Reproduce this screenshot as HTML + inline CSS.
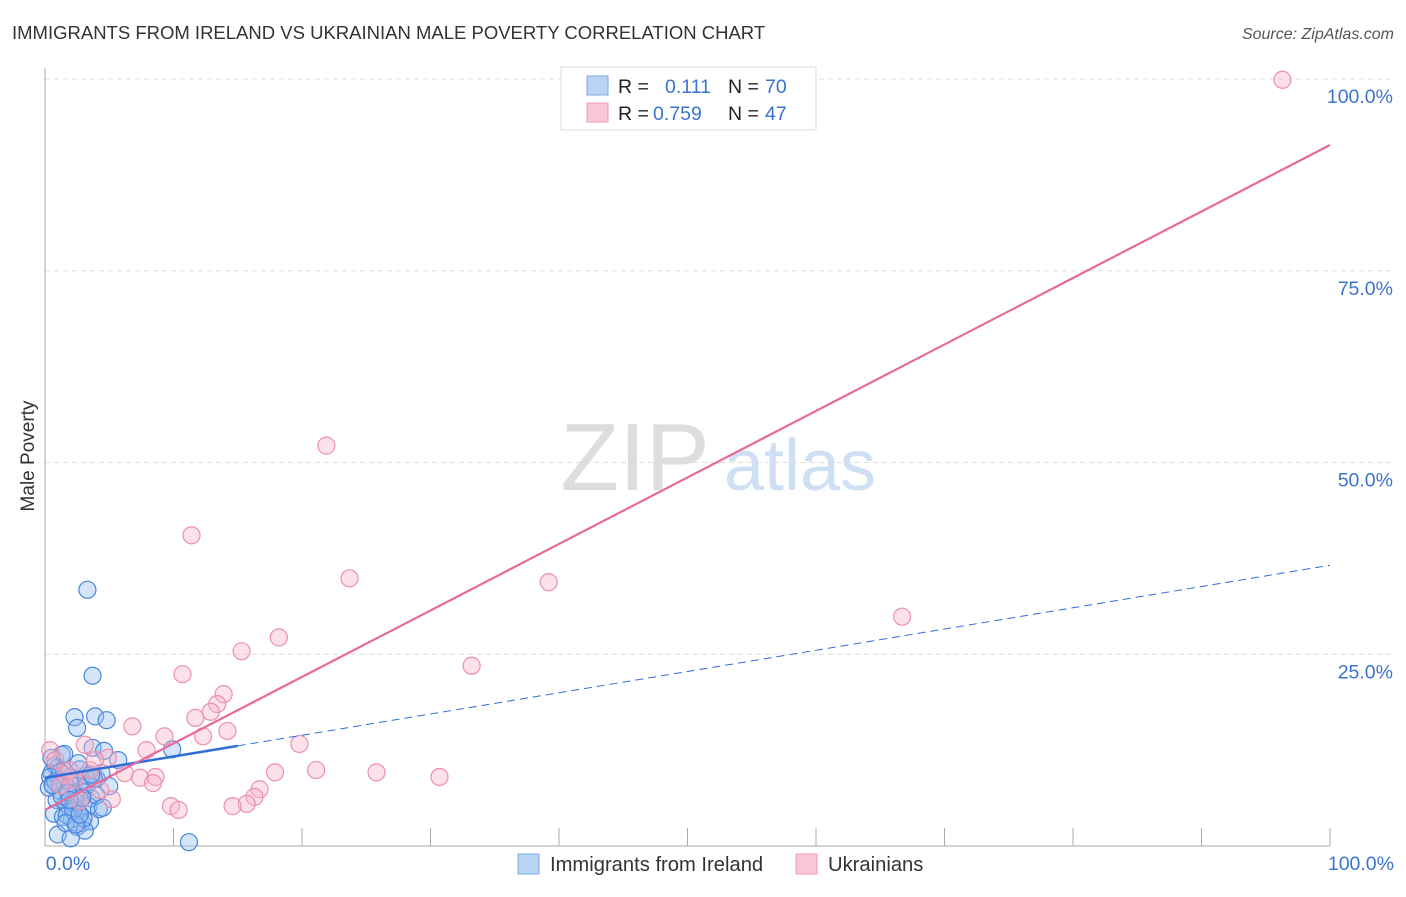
<!DOCTYPE html>
<html><head><meta charset="utf-8"><style>
body{margin:0;background:#fff;font-family:"Liberation Sans",sans-serif;}
svg text{font-family:"Liberation Sans",sans-serif;}
</style></head><body>
<svg width="1406" height="892" xmlns="http://www.w3.org/2000/svg">
<text x="12" y="39" font-size="18.5" fill="#333">IMMIGRANTS FROM IRELAND VS UKRAINIAN MALE POVERTY CORRELATION CHART</text>
<text x="1394" y="39" font-size="16" fill="#555" font-style="italic" text-anchor="end">Source: ZipAtlas.com</text>
<text x="34" y="456" font-size="19" fill="#333" transform="rotate(-90 34 456)" text-anchor="middle">Male Poverty</text>
<g>
<text x="635" y="490" font-size="96" fill="#ddd" font-family="Liberation Serif" text-anchor="middle">ZIP</text>
<text x="800" y="490" font-size="72" fill="#cfe0f5" text-anchor="middle">atlas</text>
</g>
<g id="grid"></g><g id="axes"></g><g id="pts"></g><g id="lines"></g>
<g>
<rect x="561" y="67" width="255" height="63" fill="#fff" stroke="#ddd"/>
<rect x="587" y="76" width="21" height="19" fill="#b9d3f5" stroke="#7aa8e6"/>
<rect x="587" y="103" width="21" height="19" fill="#f9c6d5" stroke="#ee9ab5"/>
<text x="618" y="93" font-size="19.5" fill="#222">R = </text><text x="665" y="93" font-size="19.5" fill="#3b74d0">0.111</text>
<text x="728" y="93" font-size="19.5" fill="#222">N = </text><text x="765" y="93" font-size="19.5" fill="#3b74d0">70</text>
<text x="618" y="120" font-size="19.5" fill="#222">R = </text><text x="653" y="120" font-size="19.5" fill="#3b74d0">0.759</text>
<text x="728" y="120" font-size="19.5" fill="#222">N = </text><text x="765" y="120" font-size="19.5" fill="#3b74d0">47</text>
</g>
<g>
<rect x="518" y="854" width="21" height="20" fill="#b9d3f5" stroke="#7aa8e6"/>
<text x="550" y="871" font-size="20.2" fill="#333">Immigrants from Ireland</text>
<rect x="796" y="854" width="21" height="20" fill="#f9c6d5" stroke="#ee9ab5"/>
<text x="828" y="871" font-size="20.2" fill="#333">Ukrainians</text>
</g>
</svg>
<script>
const yTicks=[25,50,75,100];
const yTickLabels=["25.0%","50.0%","75.0%","100.0%"];
const xTickLabels=["0.0%","100.0%"];
const irelandX=[3.3,3.7,2.3,3.9,4.8,2.5,3.7,4.6,9.9,1.3,5.7,0.8,11.2,0.5,1.0,1.5,2.0,2.8,3.2,4.0,4.4,5.0,0.6,1.2,1.8,2.4,3.0,3.6,0.9,1.6,2.2,2.6,3.4,4.2,0.7,1.4,2.1,2.9,3.5,0.4,1.1,1.9,2.7,0.3,1.3,2.3,1.7,2.5,3.1,1.0,2.0,3.0,4.0,0.5,1.5,2.6,1.8,3.3,2.2,1.2,0.8,2.9,3.8,4.5,1.6,2.4,0.6,1.9,3.6,2.7];
const irelandY=[33.4,22.2,16.8,16.9,16.4,15.4,12.8,12.4,12.6,11.9,11.2,10.5,0.5,9.5,10.2,9.8,9.0,8.5,9.2,8.8,9.5,7.8,8.0,7.2,7.5,6.8,7.0,6.2,6.0,5.5,5.0,4.5,5.2,4.8,4.2,3.8,3.5,3.0,3.2,9.0,8.6,8.2,10.0,7.6,6.5,5.8,4.0,2.5,2.0,1.5,1.0,3.6,6.6,11.5,12.0,10.8,7.0,8.0,4.6,9.6,8.4,6.3,8.8,5.0,3.0,2.8,7.9,6.0,9.3,4.1];
const ukrX=[96.3,21.9,11.4,23.7,39.2,66.7,18.2,15.3,33.2,10.7,13.9,13.4,12.9,11.7,6.8,14.2,12.3,9.3,19.8,7.9,4.9,21.1,17.9,25.8,30.7,6.2,8.6,7.4,8.4,16.7,16.3,5.2,15.7,14.6,9.8,10.4,0.4,0.8,1.6,2.3,3.5,4.3,1.2,2.7,3.9,3.1,1.9];
const ukrY=[99.9,52.2,40.5,34.9,34.4,29.9,27.2,25.4,23.5,22.4,19.8,18.5,17.5,16.7,15.6,15.0,14.3,14.3,13.3,12.5,11.5,9.9,9.6,9.6,9.0,9.5,9.0,8.9,8.2,7.4,6.4,6.1,5.5,5.2,5.2,4.7,12.5,11.2,9.3,8.6,9.9,7.3,7.9,5.9,11.2,13.2,9.9];
const irelandTrend=[8.9,36.6];
const ukrTrend=[4.7,91.4];
const sx=v=>45+v*12.85, sy=v=>846-v*7.67;
const NS="http://www.w3.org/2000/svg";
function mk(t,a,p){const e=document.createElementNS(NS,t);for(const k in a)e.setAttribute(k,a[k]);p.appendChild(e);return e;}
const grid=document.getElementById('grid'),axes=document.getElementById('axes'),pts=document.getElementById('pts'),lines=document.getElementById('lines');
yTicks.forEach((v,i)=>{
 const l=mk('line',{x1:45,x2:1394,y1:sy(v),y2:sy(v),stroke:'#ddd','stroke-dasharray':'5,4'},grid);
 
 
 const t=mk('text',{x:1393,y:sy(v)+24,'font-size':19.5,fill:'#3b74d0','text-anchor':'end'},grid);
 t.textContent=yTickLabels[i];
 
 
});
const ya=mk('line',{x1:45,x2:45,y1:68,y2:846,stroke:'#aaa'},axes);


const xa=mk('line',{x1:45,x2:1330,y1:846,y2:846,stroke:'#aaa'},axes);


for(let i=0;i<=10;i++){const t=mk('line',{x1:sx(i*10),x2:sx(i*10),y1:828,y2:846,stroke:'#aaa'},axes);
 
 }
[[0,68,'middle'],[100,1394,'end']].forEach((d,i)=>{const t=mk('text',{x:d[1],y:870,'font-size':19.5,fill:'#3b74d0','text-anchor':d[2]},axes);t.textContent=xTickLabels[i];
 
 });
irelandX.forEach((x,i)=>{const c=mk('circle',{cx:sx(x),cy:sy(irelandY[i]),r:8.5,fill:'rgba(150,190,240,0.4)',stroke:'#4a86db','stroke-width':1.2},pts);
 
 });
ukrX.forEach((x,i)=>{const c=mk('circle',{cx:sx(x),cy:sy(ukrY[i]),r:8.5,fill:'rgba(248,180,200,0.4)',stroke:'#ec8fae','stroke-width':1.2},pts);
 
 });
const bAt=x=>irelandTrend[0]+(irelandTrend[1]-irelandTrend[0])*x/100;
const b1=mk('line',{x1:sx(0),y1:sy(bAt(0)),x2:sx(15),y2:sy(bAt(15)),stroke:'#2f6fd6','stroke-width':2.5},lines);


const b2=mk('line',{x1:sx(15),y1:sy(bAt(15)),x2:sx(100),y2:sy(bAt(100)),stroke:'#2f6fd6','stroke-width':1,'stroke-dasharray':'8,5'},lines);


const p=mk('line',{x1:sx(0),y1:sy(ukrTrend[0]),x2:sx(100),y2:sy(ukrTrend[1]),stroke:'#e8699a','stroke-width':2.2},lines);


</script>
</body></html>
